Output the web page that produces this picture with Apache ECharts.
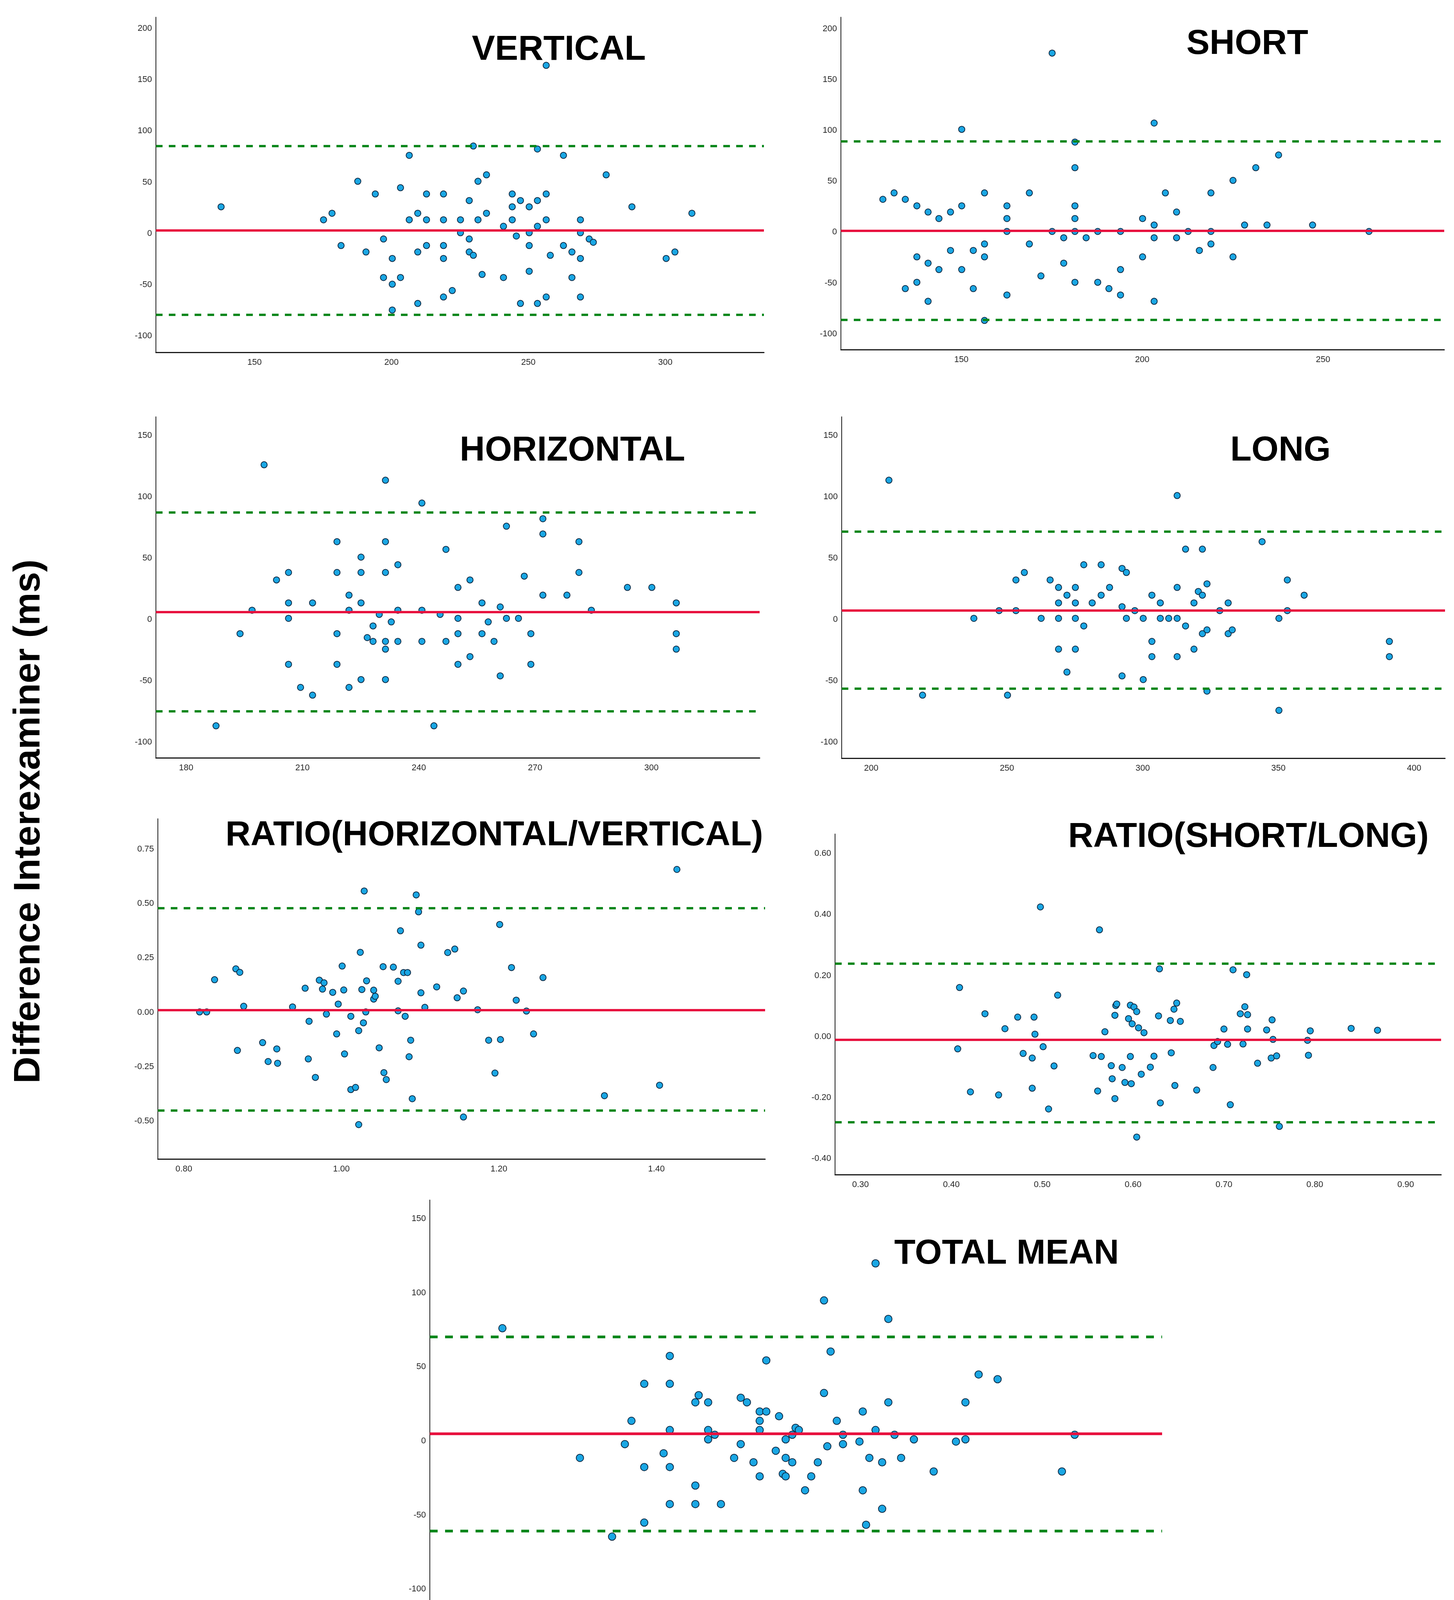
<!DOCTYPE html>
<html>
<head>
<meta charset="utf-8">
<script src="https://cdn.jsdelivr.net/npm/echarts@6/dist/echarts.min.js"></script>
<style>
html,body{margin:0;padding:0;background:#fff;}
#c{width:3721px;height:4501px;}
</style>
</head>
<body>
<div id="c"></div>
<script>
// ---------- DATA ----------
const verticalMean = [137.8,175.2,178.3,181.6,187.7,190.7,194.1,197.1,197.1,200.3,200.3,200.3,203.3,203.3,206.5,206.5,209.6,209.6,209.6,212.8,212.8,212.8,219,219,219,219,219,222.2,225.2,225.2,228.4,228.4,228.4,229.9,229.9,231.6,231.6,233.1,234.7,234.7,240.9,240.9,244.1,244.1,244.1,245.6,247.1,247.1,250.3,250.3,250.3,250.3,253.3,253.3,253.3,253.3,256.5,256.5,256.5,256.5,258,262.8,262.8,265.9,265.9,269,269,269,269,272.2,273.7,278.4,287.8,300.3,303.5,309.7];
const verticalDiff = [26,13.3,19.7,-11.8,50.9,-18.1,38.5,-5.4,-43,-24.4,-49.5,-74.7,44.6,-43,76.2,13.3,19.7,-18.1,-68.3,38.5,13.3,-11.8,38.5,13.3,-11.8,-24.4,-62,-55.7,13.3,0.7,32.1,-5.4,-18.1,85.3,-21.3,50.9,13.3,-40,57.2,19.7,7,-43,38.5,26,13.3,-2.5,32.1,-68.3,26,0.7,-11.8,-36.9,82.4,32.1,7,-68.3,164,38.5,13.3,-62,-21.3,76.2,-11.8,-18.1,-43,13.3,0.7,-24.4,-62,-5.4,-8.6,57.2,26,-24.4,-18.1,19.7];
const verticalLines = [2.9, 85.3, -79.2]; // mean, upper, lower

const shortMean = [128.3,131.4,134.5,134.5,137.7,137.7,137.7,140.8,140.8,140.8,143.8,143.8,147,147,150.1,150.1,150.1,153.3,153.3,156.4,156.4,156.4,156.4,162.6,162.6,162.6,162.6,168.8,168.8,172,175.1,175.1,178.3,178.3,181.4,181.4,181.4,181.4,181.4,181.4,184.5,187.7,187.7,190.8,194,194,194,200.1,200.1,203.3,203.3,203.3,203.3,206.4,209.5,209.5,212.7,215.8,219,219,219,225.1,225.1,228.3,231.4,234.5,237.7,247.1,262.7];
const shortDiff = [32.3,38.6,32.3,-55.5,25.9,-24.3,-49.3,19.8,-30.5,-68,13.4,-36.8,19.8,-18,101.1,25.9,-36.8,-18,-55.5,38.6,-11.6,-24.3,-86.8,25.9,13.4,0.7,-61.8,38.6,-11.6,-43,176.1,0.7,-5.5,-30.5,88.6,63.4,25.9,13.4,0.7,-49.3,-5.5,0.7,-49.3,-55.5,0.7,-36.8,-61.8,13.4,-24.3,107.3,7,-5.5,-68,38.6,19.8,-5.5,0.7,-18,38.6,0.7,-11.6,50.9,-24.3,7,63.4,7,75.9,7,0.7];
const shortLines = [1.4, 89.5, -86.4];

const horizontalMean = [187.7,193.9,197,200.1,203.3,206.4,206.4,206.4,206.4,209.5,212.6,212.6,218.9,218.9,218.9,218.9,222,222,222,225.1,225.1,225.1,225.1,226.7,228.2,228.2,229.8,231.4,231.4,231.4,231.4,231.4,231.4,232.9,234.6,234.6,234.6,240.8,240.8,240.8,243.9,245.5,247,247,250.1,250.1,250.1,250.1,253.2,253.2,256.3,256.3,257.9,259.4,261,261,262.6,262.6,265.7,267.2,268.9,268.9,272,272,272,278.2,281.3,281.3,284.5,293.8,300.1,306.4,306.4,306.4];
const horizontalDiff = [-86.6,-11.5,7.6,126.2,32.3,38.4,13.6,1,-36.5,-55.3,13.6,-61.6,63.5,38.4,-11.5,-36.5,19.9,7.6,-55.3,50.9,38.4,13.6,-48.9,-14.7,-5.2,-17.8,4.2,113.6,63.5,38.4,-17.8,-24.1,-48.9,-1.9,44.7,7.6,-17.8,95,7.6,-17.8,-86.6,4.2,57.2,-17.8,26.2,1,-11.5,-36.5,32.3,-30.2,13.6,-11.5,-1.9,-17.8,10.3,-45.9,76.1,1,1,35.4,-11.5,-36.5,82.2,69.8,19.9,19.9,63.5,38.4,7.6,26.2,26.2,13.6,-11.5,-24.1];
const horizontalLines = [6.3, 87.4, -74.8];

const longMean = [206.5,218.9,237.8,247.1,250.2,253.3,253.3,256.4,262.6,265.9,269,269,269,269,272.1,272.1,275.2,275.2,275.2,275.2,278.3,278.3,281.4,284.7,284.7,287.8,292.4,292.4,292.4,294,294,297.1,300.2,300.2,303.4,303.4,303.4,306.5,306.5,309.6,312.7,312.7,312.7,312.7,315.8,315.8,318.9,318.9,320.5,322,322,322,323.7,323.7,323.7,328.4,331.5,331.5,333,344,350.2,350.2,353.3,353.3,359.5,390.9,390.9];
const longDiff = [113.6,-61.6,1,7.3,-61.6,32.3,7.3,38.4,1,32.3,26.2,13.6,1,-24.1,19.9,-42.8,26.2,13.6,1,-24.1,44.7,-5.2,13.6,44.7,19.9,26.2,41.7,10.5,-45.9,38.4,1,7.3,1,-48.9,19.9,-17.8,-30.2,13.6,1,1,101.1,26.2,1,-30.2,57.4,-5.2,13.6,-24.1,22.9,57.4,19.9,-11.5,29.1,-8.4,-58.3,7.3,13.6,-11.5,-8.4,63.5,1,-74,32.3,7.3,19.9,-17.8,-30.2];
const longLines = [7.6, 71.9, -56.4];

const ratioHVMean = [0.820,0.829,0.839,0.866,0.871,0.868,0.876,0.900,0.907,0.918,0.919,0.938,0.954,0.959,0.958,0.967,0.972,0.976,0.978,0.981,0.989,0.994,0.996,1.001,1.003,1.004,1.012,1.012,1.018,1.022,1.022,1.024,1.026,1.028,1.029,1.031,1.032,1.041,1.041,1.043,1.048,1.053,1.054,1.057,1.066,1.072,1.072,1.075,1.079,1.081,1.084,1.086,1.088,1.090,1.095,1.098,1.101,1.101,1.106,1.121,1.135,1.144,1.147,1.155,1.155,1.173,1.187,1.195,1.201,1.202,1.216,1.222,1.235,1.244,1.256,1.334,1.404,1.426];
const ratioHVDiff = [0.002,0.002,0.150,0.200,0.184,-0.175,0.028,-0.139,-0.226,-0.168,-0.234,0.025,0.111,-0.041,-0.214,-0.299,0.148,0.107,0.136,-0.008,0.092,-0.099,0.038,0.213,0.103,-0.191,-0.018,-0.355,-0.345,-0.084,-0.516,0.276,0.105,-0.048,0.558,0.002,0.145,0.102,0.061,0.074,-0.163,0.210,-0.277,-0.309,0.208,0.007,0.143,0.375,0.183,-0.018,0.183,-0.204,-0.128,-0.397,0.540,0.462,0.309,0.090,0.023,0.117,0.275,0.291,0.067,0.098,-0.481,0.012,-0.128,-0.279,0.404,-0.125,0.206,0.056,0.006,-0.099,0.160,-0.383,-0.335,0.657];
const ratioHVLines = [0.0126, 0.484, -0.45];

const ratioSLMean = [0.407,0.409,0.421,0.437,0.452,0.459,0.473,0.479,0.489,0.489,0.491,0.492,0.498,0.501,0.507,0.513,0.517,0.556,0.561,0.563,0.565,0.569,0.576,0.577,0.580,0.580,0.581,0.582,0.588,0.591,0.595,0.597,0.597,0.598,0.599,0.601,0.604,0.604,0.606,0.609,0.612,0.619,0.623,0.628,0.629,0.630,0.641,0.642,0.645,0.646,0.648,0.652,0.670,0.688,0.689,0.693,0.700,0.704,0.707,0.710,0.718,0.721,0.723,0.725,0.726,0.726,0.737,0.747,0.752,0.753,0.754,0.758,0.761,0.792,0.793,0.795,0.840,0.869];
const ratioSLDiff = [-0.040,0.161,-0.181,0.075,-0.191,0.026,0.064,-0.055,-0.070,-0.169,0.064,0.008,0.425,-0.033,-0.237,-0.096,0.136,-0.062,-0.178,0.350,-0.065,0.016,-0.095,-0.138,0.070,-0.203,0.102,0.107,-0.101,-0.150,0.059,0.103,-0.065,-0.154,0.042,0.097,0.082,-0.329,0.029,-0.123,0.013,-0.100,-0.064,0.068,0.222,-0.217,0.053,-0.053,0.090,-0.160,0.110,0.050,-0.175,-0.101,-0.029,-0.016,0.025,-0.025,-0.223,0.219,0.075,-0.024,0.098,0.203,0.072,0.025,-0.087,0.022,-0.070,0.055,-0.009,-0.063,-0.294,-0.012,-0.061,0.019,0.027,0.021];
const ratioSLLines = [-0.015, 0.2436, -0.276];

const totalMean = [168.9,187.7,195.5,198.6,200.2,203.3,203.3,203.3,208,209.5,209.5,209.5,209.5,209.5,215.7,215.7,215.7,216.5,218.8,218.8,218.8,220.4,221.9,225.1,226.7,226.7,228.2,229.8,231.3,231.3,231.3,231.3,232.9,232.9,235.2,236,236.9,237.6,237.6,237.6,239.2,239.2,240,240.8,242.3,243.8,245.4,246.9,246.9,247.7,248.5,250,251.5,251.5,255.5,256.3,256.3,257.1,257.9,259.4,259.4,261,261,262.5,262.5,264,265.6,268.7,273.5,278.9,281.2,281.2,284.4,289,304.6,307.7];
const totalDiff = [76.1,-11.4,-64.6,-2.1,13.6,38.6,-17.6,-55.1,-8.3,57.4,38.6,7.4,-17.6,-42.6,26.1,-30.1,-42.6,30.9,26.1,7.4,1.1,4.2,-42.6,-11.4,29.2,-2.1,26.1,-14.4,19.9,13.6,7.4,-23.9,54.4,19.9,-6.6,16.7,-22.2,1.1,-11.4,-23.9,4.2,-14.4,8.9,7.4,-33.3,-23.9,-14.4,94.9,32.4,-3.6,60.4,13.6,4.2,-2.1,-0.4,19.9,-33.3,-56.6,-11.4,119.9,7.4,-14.4,-45.8,82.4,26.1,4.2,-11.4,1.1,-20.6,-0.4,26.1,1.1,44.9,41.7,-20.6,4.2];
const totalLines = [4.9, 70.3, -60.8];

// axis ranges and tick labels
const verticalXRange = [114, 336], verticalYRange = [-116, 211];
const shortXRange = [116.7, 283.5], shortYRange = [-115.5, 211.4];
const horizontalXRange = [172.2, 327.9], horizontalYRange = [-112.7, 165.3];
const longXRange = [189.1, 411.4], longYRange = [-113, 165.3];
const ratioHVXRange = [0.767, 1.538], ratioHVYRange = [-0.674, 0.89];
const ratioSLXRange = [0.272, 0.939], ratioSLYRange = [-0.452, 0.664];
const totalXRange = [151.3, 328.9], totalYRange = [-112.9, 162.7];

const verticalXTicks = [150, 200, 250, 300];
const shortXTicks = [150, 200, 250];
const yTicks200 = [-100, -50, 0, 50, 100, 150, 200];
const horizontalXTicks = [180, 210, 240, 270, 300];
const longXTicks = [200, 250, 300, 350, 400];
const yTicks150 = [-100, -50, 0, 50, 100, 150];
const ratioHVXTicks = [0.80, 1.00, 1.20, 1.40];
const ratioHVYTicks = [-0.50, -0.25, 0.00, 0.25, 0.50, 0.75];
const ratioSLXTicks = [0.30, 0.40, 0.50, 0.60, 0.70, 0.80, 0.90];
const ratioSLYTicks = [-0.40, -0.20, 0.00, 0.20, 0.40, 0.60];
const totalXTicks = [180, 210, 240, 270, 300];

const panelTitles = ['VERTICAL', 'SHORT', 'HORIZONTAL', 'LONG', 'RATIO(HORIZONTAL/VERTICAL)', 'RATIO(SHORT/LONG)', 'TOTAL MEAN'];
const yAxisTitle = 'Difference Interexaminer (ms)';
const xAxisTitle = 'Mean Interexaminer (ms)';

// ---------- LAYOUT ----------
const small = {sym: 16, dash: [17, 16], dw: 6, mw: 6};
const big = {sym: 19, dash: [20, 19], dw: 7, mw: 7};
const panels = [
  {mean: verticalMean, diff: verticalDiff, lines: verticalLines, xr: verticalXRange, yr: verticalYRange, xt: verticalXTicks, yt: yTicks200, dec: 0, st: small,
   grid: {left: 399, top: 44, width: 1556, height: 858}, title: [1430, 128]},
  {mean: shortMean, diff: shortDiff, lines: shortLines, xr: shortXRange, yr: shortYRange, xt: shortXTicks, yt: yTicks200, dec: 0, st: small,
   grid: {left: 2152, top: 44, width: 1544, height: 851}, title: [3192, 113]},
  {mean: horizontalMean, diff: horizontalDiff, lines: horizontalLines, xr: horizontalXRange, yr: horizontalYRange, xt: horizontalXTicks, yt: yTicks150, dec: 0, st: small,
   grid: {left: 399, top: 1067, width: 1545, height: 873}, title: [1465, 1154]},
  {mean: longMean, diff: longDiff, lines: longLines, xr: longXRange, yr: longYRange, xt: longXTicks, yt: yTicks150, dec: 0, st: small,
   grid: {left: 2154, top: 1067, width: 1544, height: 874}, title: [3277, 1154]},
  {mean: ratioHVMean, diff: ratioHVDiff, lines: ratioHVLines, xr: ratioHVXRange, yr: ratioHVYRange, xt: ratioHVXTicks, yt: ratioHVYTicks, dec: 2, st: small,
   grid: {left: 404, top: 2096, width: 1554, height: 871}, title: [1265, 2139]},
  {mean: ratioSLMean, diff: ratioSLDiff, lines: ratioSLLines, xr: ratioSLXRange, yr: ratioSLYRange, xt: ratioSLXTicks, yt: ratioSLYTicks, dec: 2, st: small,
   grid: {left: 2137, top: 2135, width: 1551, height: 872}, title: [3195, 2143]},
  {mean: totalMean, diff: totalDiff, lines: totalLines, xr: totalXRange, yr: totalYRange, xt: totalXTicks, yt: yTicks150, dec: 0, st: big,
   grid: {left: 1100, top: 3072, width: 1874, height: 1045}, title: [2576, 3210]}
];

const FONT = '"Liberation Sans", Arial, Helvetica, sans-serif';
const labelStyle = {color: '#262626', fontSize: 22, fontFamily: FONT};

const grids = [], xAxes = [], yAxes = [], series = [], graphics = [];
panels.forEach((p, i) => {
  grids.push(Object.assign({containLabel: false}, p.grid));
  const fmt = v => p.dec ? Number(v).toFixed(p.dec) : String(Math.round(v));
  xAxes.push({
    type: 'value', gridIndex: i, min: p.xr[0], max: p.xr[1],
    axisLine: {show: true, onZero: false, lineStyle: {color: '#1a1a1a', width: 3}},
    axisTick: {show: false},
    splitLine: {show: false},
    axisLabel: Object.assign({customValues: p.xt, formatter: fmt, margin: 15}, labelStyle)
  });
  yAxes.push({
    type: 'value', gridIndex: i, min: p.yr[0], max: p.yr[1],
    axisLine: {show: true, onZero: false, lineStyle: {color: '#1a1a1a', width: 2}},
    axisTick: {show: false},
    splitLine: {show: false},
    axisLabel: Object.assign({customValues: p.yt, formatter: fmt, margin: 10}, labelStyle)
  });
  series.push({
    type: 'scatter', xAxisIndex: i, yAxisIndex: i,
    data: p.mean.map((m, k) => [m, p.diff[k]]),
    symbol: 'circle', symbolSize: p.st.sym,
    itemStyle: {color: '#1aa7e4', borderColor: '#0e2a45', borderWidth: 2, opacity: 1},
    z: 2,
    markLine: {
      silent: true, symbol: 'none', animation: false, z: 5,
      label: {show: false},
      data: [
        {yAxis: p.lines[0], lineStyle: {color: '#e8123f', width: p.st.mw, type: 'solid'}},
        {yAxis: p.lines[1], lineStyle: {color: '#0a871c', width: p.st.dw, type: p.st.dash}},
        {yAxis: p.lines[2], lineStyle: {color: '#0a871c', width: p.st.dw, type: p.st.dash}}
      ]
    }
  });
  graphics.push({
    type: 'text', x: p.title[0], y: p.title[1], z: 100,
    style: {text: panelTitles[i], font: 'bold 89px ' + FONT, fill: '#000',
            align: 'center', verticalAlign: 'middle', textAlign: 'center', textVerticalAlign: 'middle'}
  });
});

graphics.push({
  type: 'text', x: 75, y: 2103, rotation: Math.PI / 2, z: 100,
  style: {text: yAxisTitle, font: 'bold 95px ' + FONT, fill: '#000',
          align: 'center', verticalAlign: 'middle', textAlign: 'center', textVerticalAlign: 'middle'}
});
graphics.push({
  type: 'text', x: 1962, y: 4393, z: 100,
  style: {text: xAxisTitle, font: 'bold 93px ' + FONT, fill: '#000',
          align: 'center', verticalAlign: 'middle', textAlign: 'center', textVerticalAlign: 'middle'}
});

const chart = echarts.init(document.getElementById('c'), null, {renderer: 'canvas'});
chart.setOption({
  animation: false,
  backgroundColor: '#ffffff',
  grid: grids,
  xAxis: xAxes,
  yAxis: yAxes,
  series: series,
  graphic: {elements: graphics}
});
</script>
</body>
</html>
